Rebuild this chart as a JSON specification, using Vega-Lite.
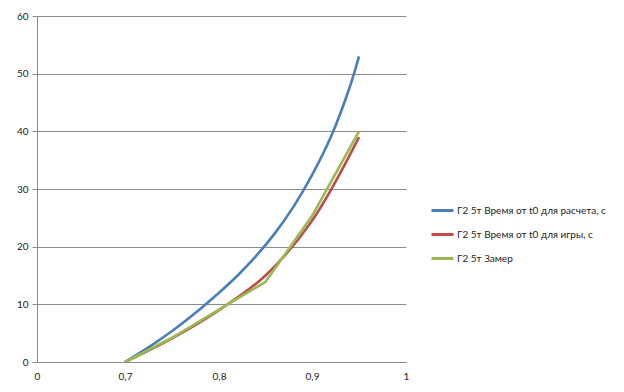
{
  "$schema": "https://vega.github.io/schema/vega-lite/v6.json",
  "width": 369,
  "height": 346,
  "autosize": "none",
  "padding": {"left": 37, "top": 16, "right": 218, "bottom": 30},
  "background": "white",
  "config": {
    "view": {"stroke": null},
    "font": "Lato",
    "axis": {"labelFont": "Lato", "labelFontSize": 10, "labelColor": "#222222"}
  },
  "data": {
    "values": [
      {"s": "Г2 5т Время от t0 для расчета, с", "v": 0.70, "t": 0},
      {"s": "Г2 5т Время от t0 для расчета, с", "v": 0.72, "t": 2.0},
      {"s": "Г2 5т Время от t0 для расчета, с", "v": 0.74, "t": 4.2},
      {"s": "Г2 5т Время от t0 для расчета, с", "v": 0.76, "t": 6.6},
      {"s": "Г2 5т Время от t0 для расчета, с", "v": 0.78, "t": 9.2},
      {"s": "Г2 5т Время от t0 для расчета, с", "v": 0.80, "t": 12.0},
      {"s": "Г2 5т Время от t0 для расчета, с", "v": 0.82, "t": 15.0},
      {"s": "Г2 5т Время от t0 для расчета, с", "v": 0.84, "t": 18.4},
      {"s": "Г2 5т Время от t0 для расчета, с", "v": 0.86, "t": 22.3},
      {"s": "Г2 5т Время от t0 для расчета, с", "v": 0.88, "t": 26.9},
      {"s": "Г2 5т Время от t0 для расчета, с", "v": 0.90, "t": 32.4},
      {"s": "Г2 5т Время от t0 для расчета, с", "v": 0.92, "t": 39.0},
      {"s": "Г2 5т Время от t0 для расчета, с", "v": 0.94, "t": 47.6},
      {"s": "Г2 5т Время от t0 для расчета, с", "v": 0.95, "t": 53.0},
      {"s": "Г2 5т Время от t0 для игры, с", "v": 0.70, "t": 0},
      {"s": "Г2 5т Время от t0 для игры, с", "v": 0.75, "t": 4.1},
      {"s": "Г2 5т Время от t0 для игры, с", "v": 0.80, "t": 9.0},
      {"s": "Г2 5т Время от t0 для игры, с", "v": 0.85, "t": 15.0},
      {"s": "Г2 5т Время от t0 для игры, с", "v": 0.90, "t": 24.5},
      {"s": "Г2 5т Время от t0 для игры, с", "v": 0.95, "t": 39.0},
      {"s": "Г2 5т Замер", "v": 0.70, "t": 0},
      {"s": "Г2 5т Замер", "v": 0.75, "t": 4.2},
      {"s": "Г2 5т Замер", "v": 0.80, "t": 9.1},
      {"s": "Г2 5т Замер", "v": 0.85, "t": 13.9},
      {"s": "Г2 5т Замер", "v": 0.90, "t": 25.3},
      {"s": "Г2 5т Замер", "v": 0.95, "t": 40.0}
    ]
  },
  "encoding": {
    "x": {
      "field": "v",
      "type": "quantitative",
      "scale": {"domain": [0, 0.7, 0.8, 0.9, 1], "range": [0, 88, 182, 275, 369], "zero": false, "nice": false},
      "axis": {
        "title": null,
        "values": [0, 0.7, 0.8, 0.9, 1],
        "labelExpr": "replace(toString(datum.value), '.', ',')",
        "ticks": false,
        "grid": false,
        "domainColor": "#8a8a8a",
        "labelPadding": 9,
        "labelFlush": false
      }
    },
    "y": {
      "field": "t",
      "type": "quantitative",
      "scale": {"domain": [0, 60], "nice": false},
      "axis": {
        "title": null,
        "values": [0, 10, 20, 30, 40, 50, 60],
        "grid": true,
        "gridColor": "#8c8c8c",
        "gridWidth": 1,
        "domainColor": "#8a8a8a",
        "tickColor": "#8a8a8a",
        "tickSize": 5,
        "labelPadding": 4
      }
    },
    "color": {
      "field": "s",
      "type": "nominal",
      "sort": ["Г2 5т Время от t0 для расчета, с", "Г2 5т Время от t0 для игры, с", "Г2 5т Замер"],
      "scale": {
        "domain": ["Г2 5т Время от t0 для расчета, с", "Г2 5т Время от t0 для игры, с", "Г2 5т Замер"],
        "range": ["#4A7EBB", "#BE4B48", "#98B954"]
      },
      "legend": {
        "title": null,
        "orient": "none",
        "legendX": 393,
        "legendY": 182,
        "symbolType": "stroke",
        "symbolSize": 484,
        "symbolStrokeWidth": 3,
        "rowPadding": 5,
        "labelFont": "Lato",
        "labelFontSize": 10,
        "labelColor": "#222222",
        "labelLimit": 300,
        "labelOffset": 2
      }
    }
  },
  "layer": [
    {
      "transform": [{"filter": "datum.s !== 'Г2 5т Замер'"}],
      "mark": {"type": "line", "interpolate": "catmull-rom", "strokeWidth": 2.6}
    },
    {
      "transform": [{"filter": "datum.s === 'Г2 5т Замер'"}],
      "mark": {"type": "line", "interpolate": "linear", "strokeWidth": 2.6, "strokeJoin": "round"}
    }
  ]
}
